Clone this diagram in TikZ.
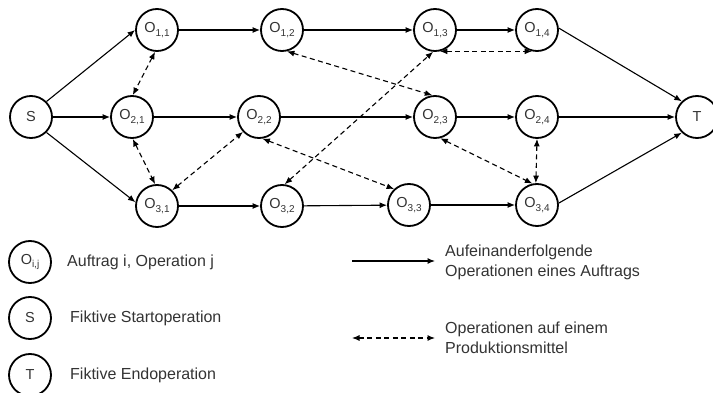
\documentclass[tikz,border=0pt]{standalone}
\usepackage{fontspec}
\setmainfont{Liberation Sans}
\usetikzlibrary{arrows.meta}
% operation label: letter with a lowered index
\newcommand{\opl}[1]{O\raisebox{-3.5pt}{\fontsize{10}{10}\selectfont #1}}
\begin{document}
\begin{tikzpicture}[x=1pt,y=-1pt,
  op/.style={circle,draw,line width=1.8pt,minimum size=42pt,inner sep=0pt,
    text=black!80,font=\fontsize{14.5}{16}\selectfont},
  seq/.style={line width=1.1pt,-{Latex[length=7.5pt,width=6pt]}},
  res/.style={line width=1.1pt,dash pattern=on 5pt off 3.5pt,
    {Latex[length=7.5pt,width=6pt]}-{Latex[length=7.5pt,width=6pt]}},
  lbl/.style={anchor=west,inner sep=0pt,align=left,text=black!80,
    font=\fontsize{16}{20}\selectfont}]
\useasboundingbox (0,0) rectangle (713,393);

% operations of the three orders
\node[op] (S)   at (31,117)  {S};
\node[op] (O11) at (157,30)  {\opl{1,1}};
\node[op] (O12) at (282,30)  {\opl{1,2}};
\node[op] (O13) at (435,30)  {\opl{1,3}};
\node[op] (O14) at (537,30)  {\opl{1,4}};
\node[op] (O21) at (132,117) {\opl{2,1}};
\node[op] (O22) at (259,117) {\opl{2,2}};
\node[op] (O23) at (435,117) {\opl{2,3}};
\node[op] (O24) at (537,117) {\opl{2,4}};
\node[op] (O31) at (157,206) {\opl{3,1}};
\node[op] (O32) at (282,206) {\opl{3,2}};
\node[op] (O33) at (409,205) {\opl{3,3}};
\node[op] (O34) at (537,205) {\opl{3,4}};
\node[op] (T)   at (697,117) {T};

% order sequence
\draw[seq] (S.45) -- (O11.west);
\draw[seq] (S) -- (O21);
\draw[seq] (S.-45) -- (O31.170);
\draw[seq] (O11) -- (O12);
\draw[seq] (O12) -- (O13);
\draw[seq] (O13) -- (O14);
\draw[seq] (O21) -- (O22);
\draw[seq] (O22) -- (O23);
\draw[seq] (O23) -- (O24);
\draw[seq] (O24) -- (T);
\draw[seq] (O31) -- (O32);
\draw[seq] (O32) -- (O33);
\draw[seq] (O33) -- (O34);
\draw[seq] (O14.5) -- (T.134);
\draw[seq] (O34.5) -- (T.-134);

% operations sharing a resource
\draw[res] (O11.-95) -- (O21.88);
\draw[res] (O21.-88) -- (O31.95);
\draw[res] (O31.46) -- (O22.223);
\draw[res] (O12.-77) -- (O23.97);
\draw[res] (O22.-81) -- (O33.133);
\draw[res] (O32.83) -- (O13.-95);
\draw[res] (O13.-77) -- (O14.-103);
\draw[res] (O23.-76) -- (O34.102);
\draw[res] (O24.-90) -- (O34.93);

% legend
\node[op] (LO) at (30,262) {\opl{i,j}};
\node[op] (LS) at (30,318) {S};
\node[op] (LT) at (30,375) {T};
\node[lbl] (tO) at (67,262) {Auftrag i, Operation j};
\node[lbl] (tS) at (70,318) {Fiktive Startoperation};
\node[lbl] (tT) at (70,375) {Fiktive Endoperation};

\coordinate (a1) at (352,261);
\coordinate (a2) at (435,261);
\draw[seq] (a1) -- (a2);
\node[lbl] (ta) at (445,262) {Aufeinanderfolgende\\Operationen eines Auftrags};

\coordinate (b1) at (352,338);
\coordinate (b2) at (435,338);
\draw[res] (b1) -- (b2);
\node[lbl] (tb) at (445,338) {Operationen auf einem\\Produktionsmittel};
\end{tikzpicture}
\end{document}
